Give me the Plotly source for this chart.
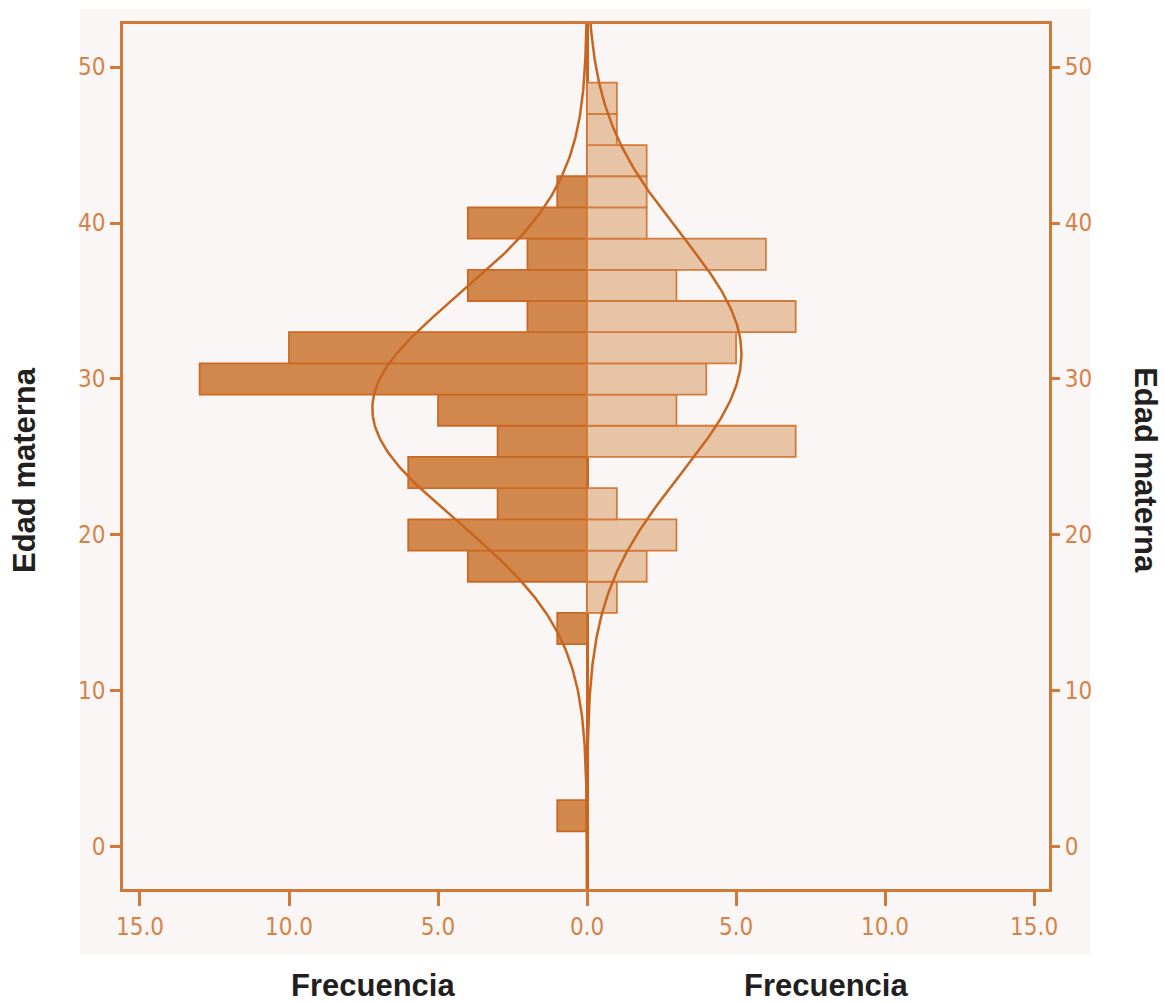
import numpy as np
import plotly.graph_objects as go

# Age bins (2-year width), identified by their centres
bin_centers = [2, 4, 6, 8, 10, 12, 14, 16, 18, 20, 22, 24,
               26, 28, 30, 32, 34, 36, 38, 40, 42, 44, 46, 48]
bin_width = 2

# Frequencies per bin, left-hand group
left_counts = [1, 0, 0, 0, 0, 0, 1, 0, 4, 6, 3, 6,
               3, 5, 13, 10, 2, 4, 2, 4, 1, 0, 0, 0]
# Frequencies per bin, right-hand group
right_counts = [0, 0, 0, 0, 0, 0, 0, 1, 2, 3, 1, 0,
                7, 3, 4, 5, 7, 3, 6, 2, 2, 2, 1, 1]

# Fitted normal curves (mean, standard deviation) for each group
left_fit = (28.1, 7.2)
right_fit = (31.6, 7.7)

freq_ticks = [-15, -10, -5, 0, 5, 10, 15]
freq_labels = ["15.0", "10.0", "5.0", "0.0", "5.0", "10.0", "15.0"]
age_ticks = [0, 10, 20, 30, 40, 50]

X_RANGE = [-15.57, 15.5]
Y_RANGE = [-2.7, 52.76]

AXIS_COLOR = "#CF7A38"
LABEL_COLOR = "#D4844A"
LINE_COLOR = "#C8651F"
PANEL_BG = "#FAF6F5"


def normal_curve(n, mean, sd):
    ys = np.linspace(Y_RANGE[0], Y_RANGE[1], 400)
    dens = n * bin_width * np.exp(-0.5 * ((ys - mean) / sd) ** 2) / (sd * np.sqrt(2 * np.pi))
    return ys, dens


fig = go.Figure()

lb = [(c, v) for c, v in zip(bin_centers, left_counts) if v > 0]
rb = [(c, v) for c, v in zip(bin_centers, right_counts) if v > 0]

fig.add_trace(go.Bar(
    y=[c for c, _ in lb], x=[-v for _, v in lb], orientation="h",
    width=bin_width, base=0,
    marker=dict(color="#D2874C", line=dict(color="#C96A24", width=1.8)),
    showlegend=False, yaxis="y",
))
fig.add_trace(go.Bar(
    y=[c for c, _ in rb], x=[v for _, v in rb], orientation="h",
    width=bin_width, base=0,
    marker=dict(color="#E8C4A7", line=dict(color="#D27B3A", width=1.8)),
    showlegend=False, yaxis="y2",
))

ly, lx = normal_curve(sum(left_counts), *left_fit)
ry, rx = normal_curve(sum(right_counts), *right_fit)
fig.add_trace(go.Scatter(x=-lx, y=ly, mode="lines",
                         line=dict(color=LINE_COLOR, width=2.5),
                         showlegend=False, yaxis="y"))
fig.add_trace(go.Scatter(x=rx, y=ry, mode="lines",
                         line=dict(color=LINE_COLOR, width=2.5),
                         showlegend=False, yaxis="y2"))

tick_font = dict(family="DejaVu Sans Condensed, Liberation Sans Narrow, Liberation Sans, Arial",
                 size=24, color=LABEL_COLOR)

fig.update_layout(
    width=1164, height=1003,
    margin=dict(l=123, r=115, t=24, b=114),
    paper_bgcolor="white",
    plot_bgcolor=PANEL_BG,
    barmode="overlay",
    xaxis=dict(
        range=X_RANGE, tickvals=freq_ticks, ticktext=freq_labels,
        showline=True, linecolor=AXIS_COLOR, linewidth=2.5, mirror=True,
        ticks="outside", ticklen=14, tickwidth=2.5, tickcolor=AXIS_COLOR,
        tickfont=tick_font, showgrid=False,
        zeroline=True, zerolinecolor=LINE_COLOR, zerolinewidth=2.5,
    ),
    yaxis=dict(
        range=Y_RANGE, tickvals=age_ticks,
        showline=True, linecolor=AXIS_COLOR, linewidth=2.5, mirror=True,
        ticks="outside", ticklen=10, tickwidth=2.5, tickcolor=AXIS_COLOR,
        tickfont=tick_font, showgrid=False, zeroline=False,
    ),
    yaxis2=dict(
        range=Y_RANGE, tickvals=age_ticks, overlaying="y", side="right",
        matches="y", showline=False,
        ticks="outside", ticklen=10, tickwidth=2.5, tickcolor=AXIS_COLOR,
        tickfont=tick_font, showgrid=False, zeroline=False,
    ),
    shapes=[dict(
        type="rect", xref="paper", yref="paper", layer="below",
        x0=-0.0464, x1=1.0443, y0=-0.0763, y1=1.0173,
        fillcolor=PANEL_BG, line=dict(width=0),
    )],
)

title_font = dict(family="Liberation Sans, Arial", size=31, color="#231F20")
fig.add_annotation(text="<b>Edad materna</b>", xref="paper", yref="paper",
                   x=-0.1058, y=0.4844, textangle=-90, showarrow=False,
                   font=title_font, xanchor="center", yanchor="middle")
fig.add_annotation(text="<b>Edad materna</b>", xref="paper", yref="paper",
                   x=1.1035, y=0.4844, textangle=90, showarrow=False,
                   font=title_font, xanchor="center", yanchor="middle")
fig.add_annotation(text="<b>Frecuencia</b>", xref="paper", yref="paper",
                   x=0.27, y=-0.111, showarrow=False,
                   font=title_font, xanchor="center", yanchor="middle")
fig.add_annotation(text="<b>Frecuencia</b>", xref="paper", yref="paper",
                   x=0.759, y=-0.111, showarrow=False,
                   font=title_font, xanchor="center", yanchor="middle")

fig.write_html("out.html")
